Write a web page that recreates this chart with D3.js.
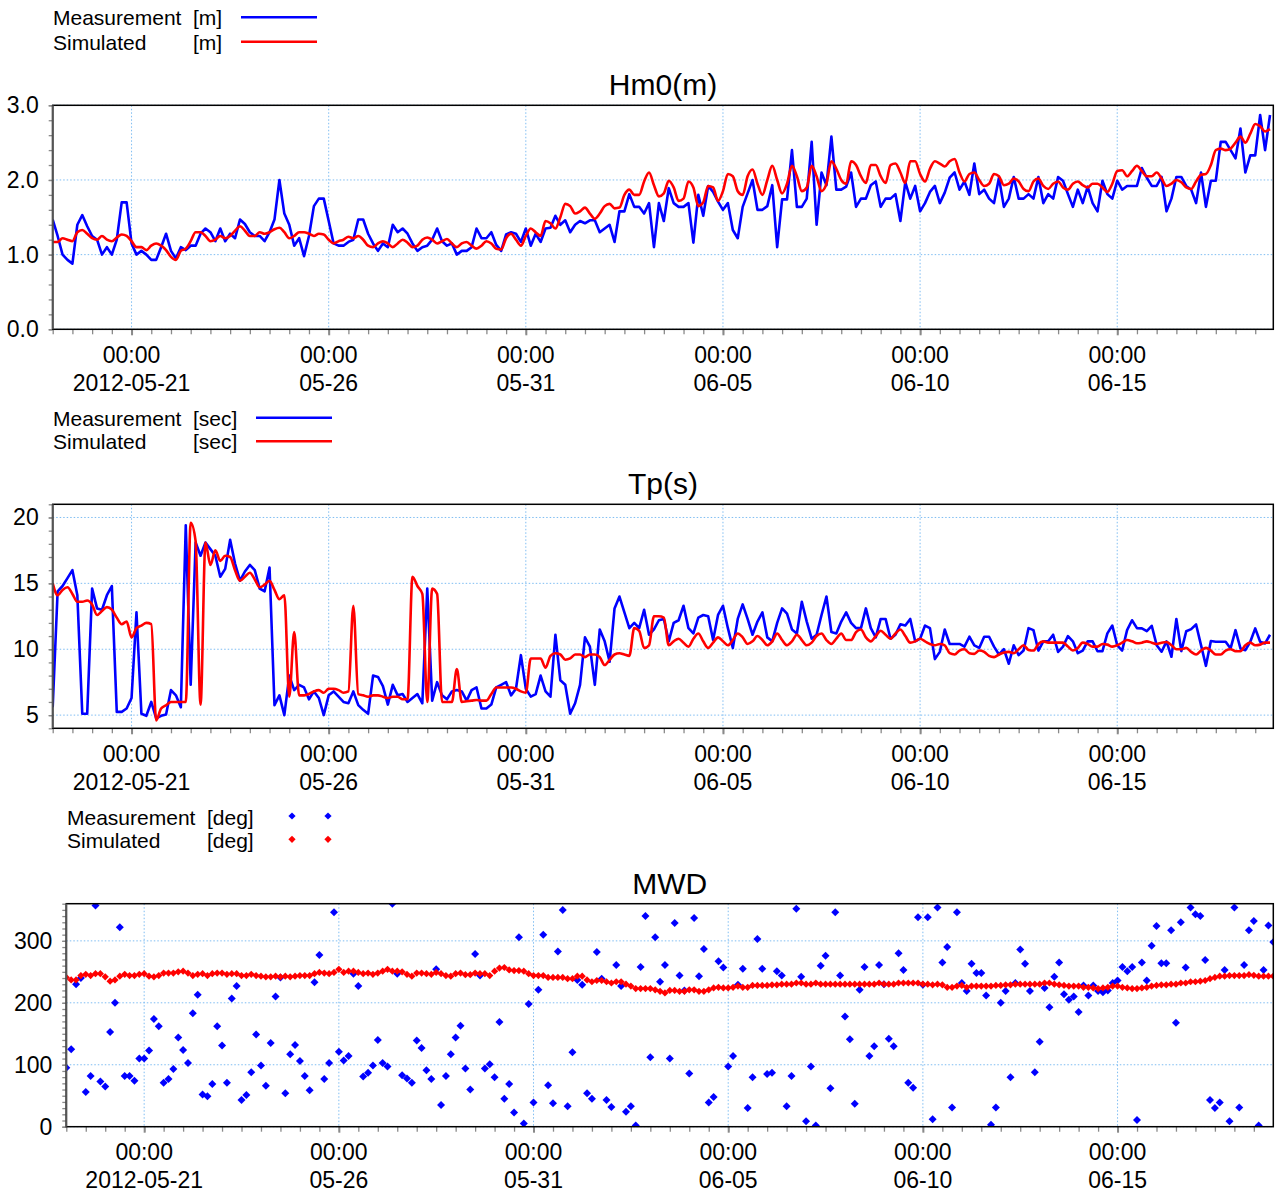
<!DOCTYPE html>
<html><head><meta charset="utf-8">
<script src="https://cdn.jsdelivr.net/npm/d3@7"></script>
<style>
body{margin:0;background:#fff;}
svg{display:block;font-family:"Liberation Sans",Arial,Helvetica,sans-serif;}
</style></head><body>
<svg id="chart" width="1278" height="1196"></svg>
<script>
// ---------------- DATA ----------------
const startTime = "2012-05-19T00:00:00Z";
const stepHours = 3;
const majorTickDates = ["2012-05-21","2012-05-26","2012-05-31","2012-06-05","2012-06-10","2012-06-15"];
const majorTickTimeLabel = "00:00";
const majorTickDateLabels = ["2012-05-21","05-26","05-31","06-05","06-10","06-15"];

const hm0Ticks = [0, 1, 2, 3];
const hm0TickLabels = ["0.0", "1.0", "2.0", "3.0"];
const tpTicks = [5, 10, 15, 20];
const tpTickLabels = ["5", "10", "15", "20"];
const mwdTicks = [0, 100, 200, 300];
const mwdTickLabels = ["0", "100", "200", "300"];

const hm0Measured = [
1.47,1.25,1.0,0.93,0.88,1.40,1.53,1.38,1.25,1.2,
1.0,1.1,1.0,1.2,1.7,1.7,1.15,1.0,1.05,1.0,
0.93,0.93,1.1,1.28,1.05,0.95,1.1,1.06,1.12,1.12,
1.28,1.35,1.3,1.18,1.35,1.18,1.28,1.22,1.47,1.41,
1.3,1.25,1.25,1.18,1.3,1.47,2.0,1.55,1.4,1.12,
1.22,0.98,1.25,1.65,1.75,1.75,1.45,1.15,1.12,1.12,
1.17,1.2,1.47,1.47,1.28,1.15,1.05,1.15,1.1,1.4,
1.3,1.35,1.28,1.15,1.05,1.1,1.12,1.2,1.35,1.18,
1.12,1.15,1.0,1.05,1.05,1.1,1.35,1.22,1.22,1.3,
1.13,1.05,1.27,1.3,1.28,1.17,1.35,1.12,1.28,1.17,
1.35,1.36,1.52,1.4,1.46,1.3,1.4,1.45,1.42,1.46,
1.46,1.3,1.35,1.4,1.17,1.58,1.58,1.81,1.64,1.64,
1.55,1.69,1.1,1.69,1.45,1.89,1.69,1.64,1.64,1.69,
1.16,1.8,1.52,1.92,1.84,1.71,1.6,1.69,1.33,1.22,
1.64,1.82,2.0,1.6,1.6,1.65,1.93,1.1,1.74,1.74,
2.4,1.64,1.64,1.75,2.51,1.4,2.1,1.93,2.58,1.87,
1.87,1.91,2.10,1.64,1.75,1.75,1.93,1.98,1.64,1.75,
1.75,1.81,1.45,1.97,1.75,1.92,1.58,1.69,1.84,1.92,
1.69,1.83,2.03,2.10,1.87,1.98,1.80,2.22,1.81,1.87,
1.75,1.69,2.03,1.64,1.75,2.04,1.75,1.75,1.81,1.75,
2.04,1.69,1.81,1.75,2.04,1.99,1.81,1.64,1.87,1.69,
1.91,1.69,1.58,1.99,1.81,1.75,1.99,1.87,1.92,1.92,
1.92,2.16,2.03,1.92,1.92,2.04,1.58,1.75,2.04,2.04,
1.92,1.87,1.69,2.10,1.64,1.99,1.99,2.51,2.51,2.40,
2.29,2.69,2.10,2.33,2.33,2.87,2.40,2.87
];
const hm0Simulated = [
1.17,1.17,1.22,1.2,1.18,1.3,1.33,1.28,1.22,1.2,
1.25,1.2,1.18,1.23,1.27,1.25,1.18,1.1,1.1,1.06,
1.12,1.15,1.12,1.06,0.97,0.93,1.05,1.08,1.18,1.3,
1.3,1.25,1.18,1.2,1.25,1.22,1.25,1.32,1.38,1.32,
1.25,1.25,1.3,1.28,1.3,1.34,1.36,1.3,1.22,1.25,
1.3,1.3,1.28,1.25,1.28,1.27,1.2,1.15,1.18,1.2,
1.24,1.22,1.25,1.2,1.12,1.1,1.15,1.18,1.15,1.1,
1.15,1.2,1.16,1.1,1.12,1.2,1.23,1.2,1.15,1.18,
1.21,1.15,1.1,1.15,1.17,1.12,1.08,1.12,1.18,1.15,
1.08,1.07,1.22,1.28,1.2,1.12,1.25,1.35,1.3,1.25,
1.45,1.42,1.35,1.5,1.68,1.65,1.55,1.58,1.63,1.55,
1.48,1.55,1.65,1.68,1.62,1.63,1.8,1.87,1.8,1.8,
1.98,2.1,1.93,1.78,1.82,1.99,1.9,1.72,1.75,1.98,
1.9,1.65,1.7,1.92,1.9,1.72,1.85,2.08,2.05,1.85,
1.8,2.05,2.14,1.95,1.8,2.0,2.19,2.0,1.82,1.95,
2.19,2.05,1.85,1.9,2.19,2.05,1.85,1.95,2.25,2.15,
2.0,1.95,2.25,2.2,2.05,1.96,2.2,2.2,2.05,1.96,
2.2,2.22,2.1,1.96,2.25,2.25,2.08,1.98,2.15,2.25,
2.22,2.18,2.25,2.28,2.1,1.98,2.08,2.1,2.0,1.92,
1.95,2.08,2.05,1.93,1.95,2.02,1.98,1.88,1.85,1.98,
2.02,1.92,1.88,1.95,1.98,1.9,1.87,1.95,1.98,1.93,
1.9,1.95,1.95,1.9,1.84,1.95,2.12,2.13,2.05,2.12,
2.19,2.12,2.05,2.05,2.1,2.02,1.92,1.95,2.0,1.97,
1.9,1.88,1.98,2.07,2.08,2.2,2.4,2.42,2.4,2.42,
2.5,2.58,2.5,2.62,2.75,2.72,2.65,2.68
];

const tpMeasured = [
5.6,14.4,14.8,15.4,16.0,14.1,5.1,5.1,14.6,13.1,
13.0,14.1,14.8,5.25,5.25,5.5,6.3,12.8,5.1,4.95,
6.0,4.75,4.95,5.05,6.9,6.5,5.6,19.4,7.3,18.1,
17.1,18.1,17.6,17.1,15.5,16.1,18.3,16.5,15.2,15.9,
16.4,16.0,14.6,14.4,16.2,5.76,6.5,5.0,8.0,6.9,
7.3,7.1,6.2,6.8,6.3,5.0,6.5,6.8,6.4,6.0,
5.9,6.8,5.76,5.4,5.1,8.0,7.9,7.2,5.8,7.3,
6.5,6.6,6.0,6.3,6.6,5.9,14.6,6.1,7.5,6.5,
6.2,6.8,6.9,6.8,6.1,6.9,7.1,5.5,5.5,5.8,
7.1,7.3,7.5,6.5,7.0,9.55,7.0,6.4,6.6,8.0,
6.8,6.4,11.1,7.65,7.3,5.1,5.9,7.3,10.9,10.2,
7.3,11.5,10.6,9.05,13.1,14.0,12.8,11.6,12.0,11.6,
13.0,11.1,11.5,12.2,12.3,10.6,12.0,12.2,13.3,11.6,
11.2,12.4,12.6,12.5,10.7,12.6,13.3,11.6,10.1,12.3,
13.4,12.3,11.1,12.1,12.8,10.9,10.6,12.0,13.1,12.7,
11.5,11.2,13.6,12.1,10.8,11.1,12.6,14.0,11.3,11.2,
12.1,12.8,12.0,11.6,11.6,13.1,11.6,10.9,12.3,12.3,
10.8,11.1,11.9,11.8,12.3,10.6,10.8,11.8,11.6,9.25,
9.8,11.5,10.4,10.4,10.4,10.2,10.95,10.3,10.1,10.95,
10.95,10.2,9.6,10.0,8.9,10.3,9.55,9.9,11.6,11.45,
9.9,10.6,10.6,11.1,9.8,10.2,11.0,10.6,9.7,9.9,
10.6,10.6,9.85,9.85,11.2,11.8,10.3,9.9,11.45,12.2,
11.6,11.58,11.37,11.78,10.31,9.81,10.6,9.43,12.3,9.86,
11.37,11.53,11.88,10.31,8.74,10.62,10.57,10.57,10.57,10.06,
11.45,10.06,9.93,10.57,11.58,10.57,10.44,11.1
];
const tpSimulated = [
15.0,14.1,14.5,14.7,14.2,13.6,13.6,13.7,13.4,12.6,
12.9,13.2,13.0,12.4,11.9,12.1,10.9,11.6,11.8,12.0,
11.9,4.6,5.5,5.75,6.0,6.0,6.0,6.0,19.6,18.2,
5.8,18.1,16.4,17.5,16.7,17.1,17.0,16.0,15.2,15.5,
15.8,15.3,14.7,14.9,15.2,14.5,13.8,14.1,6.4,11.3,
6.5,6.5,6.6,6.8,6.9,6.7,7.0,7.0,6.9,6.7,
6.8,13.3,6.6,6.5,6.4,6.5,6.5,6.4,6.3,6.4,
6.4,6.2,6.2,15.5,14.8,14.2,6.0,14.6,14.2,6.0,
6.0,6.0,8.5,6.0,6.05,6.1,6.15,6.1,6.1,6.6,
7.1,7.1,7.1,7.1,7.0,6.8,6.7,9.3,9.3,9.3,
8.6,9.5,9.7,9.6,9.2,9.3,9.6,9.6,9.4,9.6,
9.6,9.4,8.8,9.2,9.6,9.7,9.6,9.5,11.6,11.4,
10.1,10.3,12.5,12.5,12.4,10.3,10.6,10.8,10.5,10.2,
10.8,11.2,10.6,10.1,10.5,10.9,10.6,10.3,10.7,11.2,
10.9,10.4,10.6,11.0,10.7,10.3,10.6,11.2,10.7,10.3,
10.6,11.1,10.7,10.3,10.5,11.0,11.2,10.7,10.4,10.8,
11.2,10.7,10.7,11.3,11.5,10.9,10.6,11.0,11.4,11.1,
10.8,11.2,11.5,11.0,10.5,10.6,10.8,10.6,10.4,10.3,
10.4,10.3,9.7,9.6,9.9,10.0,9.7,9.65,9.9,9.8,
9.5,9.4,9.6,9.75,9.8,9.7,10.0,10.3,9.95,9.9,
10.4,10.6,10.5,10.5,10.5,10.5,10.2,9.9,10.1,10.5,
10.4,10.2,10.2,10.4,10.35,10.2,10.3,10.5,10.7,10.6,
10.45,10.5,10.6,10.5,10.4,10.5,10.55,10.3,10.0,10.0,
10.1,9.8,9.6,9.9,10.1,9.9,9.6,9.6,9.9,10.0,
9.85,9.85,10.3,10.5,10.3,10.35,10.5,10.5
];

const mwdMeasured = [
95,125,230,240,56,82,357,73,65,153,
200,322,82,82,74,110,110,123,174,162,
71,77,93,144,124,103,183,213,52,49,
69,162,131,71,207,227,43,51,88,149,
99,66,135,210,241,54,117,132,106,82,
59,233,277,77,103,346,121,107,114,247,
227,81,87,99,140,103,97,360,247,83,
78,71,139,127,91,77,254,35,82,117,
144,163,94,60,279,244,94,101,80,169,
45,69,23,306,5,198,39,221,310,67,
38,283,350,33,120,237,229,54,45,282,
239,43,32,261,227,24,33,2,258,340,
112,306,234,261,110,329,244,220,86,337,
243,287,39,48,267,257,97,114,229,255,
30,80,303,255,85,87,251,244,33,82,
352,242,9,97,2,260,276,62,346,244,
178,141,37,221,258,114,130,261,230,142,
130,280,253,71,63,338,229,338,12,354,
265,290,31,346,232,219,263,248,248,212,
3,31,200,219,80,232,286,263,219,88,
137,224,193,242,265,214,205,210,185,228,
212,228,219,217,220,232,236,258,251,258,
11,265,236,292,324,264,264,317,168,330,
257,354,343,340,269,43,30,39,253,9,
354,31,261,317,332,2,253,325,298
];
const mwdSimulated = [
241,237,237,244,246,244,247,247,242,235,
237,243,246,244,244,246,247,243,242,244,
248,248,248,250,251,248,244,246,247,244,
247,248,248,246,247,247,244,244,246,244,
243,242,242,243,242,243,242,243,244,244,
244,247,249,248,247,249,254,249,251,251,
249,247,248,246,248,251,254,251,251,250,
246,243,248,248,247,246,249,247,244,243,
247,248,245.5,245.5,248,247,247,244,251,256,
257,253,252,252,251,247,244,244,244,241,
241,241,241,239,239,243,243,237,234,236,
236,234,232,234,234,230,227,223,223,223,
223,221,218.5,216,220,220,218.5,218.5,221,221,
218.5,218.5,221,224,225,224,224,225,227,225,
225,228,228,228,228,229,229,230,230,230,
232,232,230,230,232,230,230,230,230,230,
230,230,230,230,230,230,230,232,230,230,
230,232,232,232,232,232,230,230,229,230,
229,225,225,227,228,225,227,227,227,227,
227,228,228,229,229,230,230,230,230,230,
230,232,232,230,229,228,227,227,227,225,
225,224,223,224,225,227,227,225,224,223,
223,224,225,227,228,229,229,230,230,232,
232,234,234,235,236,239,241,243,243,244,
244,244,244,245.5,244.4,243,243,243,243
];

const legendHm0 = [{name:"Measurement", unit:"[m]"}, {name:"Simulated", unit:"[m]"}];
const legendTp = [{name:"Measurement", unit:"[sec]"}, {name:"Simulated", unit:"[sec]"}];
const legendMwd = [{name:"Measurement", unit:"[deg]"}, {name:"Simulated", unit:"[deg]"}];

// ---------------- DRAWING ----------------
const BLUE = "#0000ff", RED = "#ff0000";
const GRID = "#7fbdf2";
const svg = d3.select("#chart");
const t0 = new Date(startTime).getTime();
const toSeries = arr => arr.map((v, i) => ({t: new Date(t0 + i * stepHours * 3600e3), v}));
const tickDates = majorTickDates.map(s => new Date(s + "T00:00:00Z"));

function drawPanel(cfg) {
  const {left, right, top, bottom, yDomain, yTicks, yTickLabels, yMinorStep, xEnd, title, id} = cfg;
  const x = d3.scaleUtc().domain([new Date(startTime), new Date(xEnd)]).range([left, right]);
  const y = d3.scaleLinear().domain(yDomain).range([bottom, top]);
  const g = svg.append("g");

  g.append("clipPath").attr("id", "clip-" + id).append("rect")
    .attr("x", left).attr("y", top).attr("width", right - left).attr("height", bottom - top);

  // grid
  g.append("g").selectAll("line").data(tickDates).join("line")
    .attr("x1", d => x(d)).attr("x2", d => x(d)).attr("y1", top).attr("y2", bottom)
    .attr("stroke", GRID).attr("stroke-width", 1).attr("stroke-dasharray", "1.5,2");
  g.append("g").selectAll("line").data(yTicks).join("line")
    .attr("x1", left).attr("x2", right).attr("y1", d => y(d)).attr("y2", d => y(d))
    .attr("stroke", GRID).attr("stroke-width", 1).attr("stroke-dasharray", "1.5,2");

  // minor x ticks (12 h)
  const minorX = d3.utcHour.every(12).range(new Date(startTime), new Date(xEnd));
  const xMinor = g.append("g").attr("transform", `translate(0,${bottom})`)
    .call(d3.axisBottom(x).tickValues(minorX).tickSize(5).tickFormat(""));
  xMinor.select(".domain").remove();
  xMinor.selectAll("line").attr("stroke", "#8a8a8a").attr("stroke-width", 1.3);
  const xMajor = g.append("g").attr("transform", `translate(0,${bottom})`)
    .call(d3.axisBottom(x).tickValues(tickDates).tickSize(6).tickFormat(""));
  xMajor.select(".domain").remove();
  xMajor.selectAll("line").attr("stroke", "#8a8a8a").attr("stroke-width", 2);
  const lbl = g.append("g").selectAll("g").data(tickDates).join("g")
    .attr("transform", d => `translate(${x(d)},${bottom})`);
  lbl.append("text").attr("y", 33.5).attr("text-anchor", "middle").attr("font-size", 23).attr("fill", "#000")
    .text(majorTickTimeLabel);
  lbl.append("text").attr("y", 61.5).attr("text-anchor", "middle").attr("font-size", 23).attr("fill", "#000")
    .text((d, i) => majorTickDateLabels[i]);

  // y minor ticks
  const minorY = d3.range(yDomain[0], yDomain[1] + yMinorStep / 2, yMinorStep);
  const yMinor = g.append("g").attr("transform", `translate(${left},0)`)
    .call(d3.axisLeft(y).tickValues(minorY).tickSize(4).tickFormat(""));
  yMinor.select(".domain").remove();
  yMinor.selectAll("line").attr("stroke", "#8a8a8a").attr("stroke-width", 1.3);
  const yMajor = g.append("g").attr("transform", `translate(${left},0)`)
    .call(d3.axisLeft(y).tickValues(yTicks).tickSize(4).tickPadding(10)
      .tickFormat((d, i) => yTickLabels[i]));
  yMajor.select(".domain").remove();
  yMajor.selectAll("line").attr("stroke", "#8a8a8a").attr("stroke-width", 1.3);
  yMajor.selectAll("text").attr("font-size", 23).attr("fill", "#000")
    .attr("font-family", '"Liberation Sans",Arial,sans-serif');

  // title
  g.append("text").attr("x", (left + right) / 2).attr("y", top - 10)
    .attr("text-anchor", "middle").attr("font-size", 30).attr("fill", "#000").text(title);

  const body = g.append("g").attr("clip-path", `url(#clip-${id})`);
  // frame
  g.append("rect").attr("x", left).attr("y", top).attr("width", right - left).attr("height", bottom - top)
    .attr("fill", "none").attr("stroke", "#000").attr("stroke-width", 1.5);
  g.append("line").attr("x1", left).attr("x2", left).attr("y1", top).attr("y2", bottom)
    .attr("stroke", "#555").attr("stroke-width", 2);
  return {x, y, body};
}

function lineLegend(x0, yBase, items, colors, lineX1, lineX2) {
  const g = svg.append("g");
  items.forEach((it, i) => {
    const yb = yBase[i];
    g.append("text").attr("x", x0).attr("y", yb).attr("font-size", 21).attr("fill", "#000").text(it.name);
    g.append("text").attr("x", x0 + 140).attr("y", yb).attr("font-size", 21).attr("fill", "#000").text(it.unit);
    g.append("line").attr("x1", lineX1).attr("x2", lineX2).attr("y1", yb - 7.8).attr("y2", yb - 7.8)
      .attr("stroke", colors[i]).attr("stroke-width", 2.5);
  });
}

function drawLines(p, meas, sim) {
  const line = d3.line().x(d => p.x(d.t)).y(d => p.y(d.v));
  p.body.append("path").datum(toSeries(meas)).attr("d", line)
    .attr("fill", "none").attr("stroke", BLUE).attr("stroke-width", 2.6).attr("stroke-linejoin", "round");
  p.body.append("path").datum(toSeries(sim)).attr("d", line.curve(d3.curveMonotoneX))
    .attr("fill", "none").attr("stroke", RED).attr("stroke-width", 2.6).attr("stroke-linejoin", "round");
}

// Panel 1: Hm0
lineLegend(53, [25, 49.5], legendHm0, [BLUE, RED], 241, 317);
const p1 = drawPanel({id: "hm0", left: 52.7, right: 1273.3, top: 105.3, bottom: 329.3,
  yDomain: [0, 3], yTicks: hm0Ticks, yTickLabels: hm0TickLabels, yMinorStep: 0.2,
  xEnd: "2012-06-18T23:00:00Z", title: "Hm0(m)"});
drawLines(p1, hm0Measured, hm0Simulated);

// Panel 2: Tp
lineLegend(53, [425.5, 449], legendTp, [BLUE, RED], 256, 332);
const p2 = drawPanel({id: "tp", left: 52.7, right: 1273.3, top: 504.3, bottom: 728.3,
  yDomain: [4, 21], yTicks: tpTicks, yTickLabels: tpTickLabels, yMinorStep: 1,
  xEnd: "2012-06-18T23:00:00Z", title: "Tp(s)"});
drawLines(p2, tpMeasured, tpSimulated);

// Panel 3: MWD
const p3 = drawPanel({id: "mwd", left: 66.3, right: 1273.3, top: 903.7, bottom: 1126.7,
  yDomain: [0, 360], yTicks: mwdTicks, yTickLabels: mwdTickLabels, yMinorStep: 10,
  xEnd: "2012-06-19T00:00:00Z", title: "MWD"});
const diamond = (size) => d3.symbol().type(d3.symbolSquare).size(size)();
p3.body.append("g").selectAll("path").data(toSeries(mwdMeasured)).join("path")
  .attr("d", diamond(32)).attr("fill", BLUE)
  .attr("transform", d => `translate(${p3.x(d.t)},${p3.y(d.v)}) rotate(45)`);
p3.body.append("g").selectAll("path").data(toSeries(mwdSimulated)).join("path")
  .attr("d", diamond(26)).attr("fill", RED)
  .attr("transform", d => `translate(${p3.x(d.t)},${p3.y(d.v)}) rotate(45)`);

// MWD legend (markers)
{
  const g = svg.append("g");
  const yb = [825, 848.3];
  const cols = [BLUE, RED];
  legendMwd.forEach((it, i) => {
    g.append("text").attr("x", 67).attr("y", yb[i]).attr("font-size", 21).attr("fill", "#000").text(it.name);
    g.append("text").attr("x", 207).attr("y", yb[i]).attr("font-size", 21).attr("fill", "#000").text(it.unit);
    [292, 328].forEach(mx => {
      g.append("path").attr("d", diamond(26)).attr("fill", cols[i])
        .attr("transform", `translate(${mx},${yb[i] - 9}) rotate(45)`);
    });
  });
}
</script>
</body></html>
